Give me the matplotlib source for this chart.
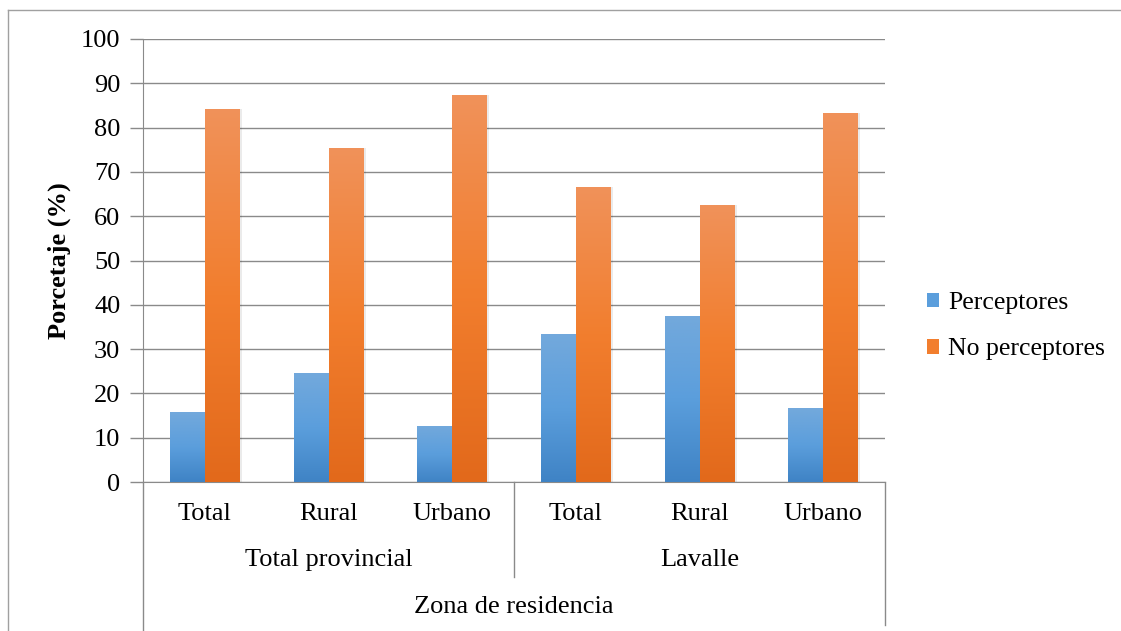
import numpy as np
import matplotlib.pyplot as plt
from matplotlib.colors import LinearSegmentedColormap
from matplotlib.lines import Line2D
from matplotlib.patches import Patch

plt.rcParams['font.family'] = ['Liberation Serif', 'DejaVu Serif']

# Data
categories = ["Total", "Rural", "Urbano", "Total", "Rural", "Urbano"]
groups = ["Total provincial", "Lavalle"]
perceptores = [15.7, 24.6, 12.7, 33.3, 37.5, 16.7]
no_perceptores = [84.3, 75.4, 87.3, 66.7, 62.5, 83.3]
series_names = ["Perceptores", "No perceptores"]
y_ticks = list(range(0, 101, 10))

BLUE_CMAP = LinearSegmentedColormap.from_list("blue", ["#3f83c5", "#5b9edc", "#73a9dc"])
ORANGE_CMAP = LinearSegmentedColormap.from_list("orange", ["#e2691b", "#f27e2e", "#f0925a"])
GRID = "#8a8a8a"
BAR_W = 0.283
FS = 19

fig = plt.figure(figsize=(11.21, 6.31), dpi=100)
ax = fig.add_axes([0.1276, 0.2361, 0.7895 - 0.1276, 0.9382 - 0.2361])

x = np.arange(len(categories))
grad = np.linspace(0, 1, 256).reshape(-1, 1)


def gradient_bars(xpos, heights, cmap):
    bars = ax.bar(xpos, heights, width=BAR_W, color="none", zorder=3)
    for b in bars:
        x0, w, h = b.get_x(), b.get_width(), b.get_height()
        # soft shadow
        ax.add_patch(plt.Rectangle((x0 + 0.01, 0), w + 0.008, h, color="#000000",
                                   alpha=0.08, lw=0, zorder=2))
        im = ax.imshow(grad, cmap=cmap, extent=[x0, x0 + w, 0, h], origin="lower",
                       aspect="auto", zorder=3)
        im.set_clip_path(b)
    return bars


gradient_bars(x - BAR_W / 2, perceptores, BLUE_CMAP)
gradient_bars(x + BAR_W / 2, no_perceptores, ORANGE_CMAP)

ax.set_xlim(-0.5, len(categories) - 0.5)
ax.set_ylim(0, 100)
ax.set_yticks(y_ticks)
ax.yaxis.grid(True, color=GRID, lw=1)
ax.set_axisbelow(True)
ax.tick_params(axis="y", length=9.4, width=1, color=GRID, labelsize=FS, pad=7)
ax.set_xticks([])
for s in ["top", "right"]:
    ax.spines[s].set_visible(False)
ax.spines["left"].set_color(GRID)
ax.spines["bottom"].set_color(GRID)
ax.set_ylabel("Porcetaje (%)", fontsize=FS, fontweight="bold", labelpad=7)

# multi-level category axis
trans = ax.get_xaxis_transform()
for i, c in enumerate(categories):
    ax.text(i, -0.072, c, transform=trans, ha="center", va="center", fontsize=FS)
ax.text(1, -0.176, groups[0], transform=trans, ha="center", va="center", fontsize=FS)
ax.text(4, -0.176, groups[1], transform=trans, ha="center", va="center", fontsize=FS)
ax.text(2.5, -0.282, "Zona de residencia", transform=trans, ha="center", va="center", fontsize=FS)
for xv, ybot in [(-0.5, -0.4), (2.5, -0.214), (5.5, -0.323)]:
    ax.add_line(Line2D([xv, xv], [0, ybot], transform=trans, color=GRID, lw=1, clip_on=False))

# legend
handles = [Patch(facecolor="#5b9edc"), Patch(facecolor="#f27e2e")]
fig.legend(handles, series_names, loc="center left", bbox_to_anchor=(0.806, 0.483),
           frameon=False, fontsize=18.5, handlelength=0.5, handleheight=0.5,
           handletextpad=0.35, labelspacing=0.95)

# outer chart border (top and left)
fig.add_artist(Line2D([8 / 1121, 1.0], [1 - 10 / 631, 1 - 10 / 631], color="#a0a0a0", lw=1))
fig.add_artist(Line2D([8 / 1121, 8 / 1121], [0, 1 - 10 / 631], color="#a0a0a0", lw=1))

fig.savefig("out.png", dpi=100)
